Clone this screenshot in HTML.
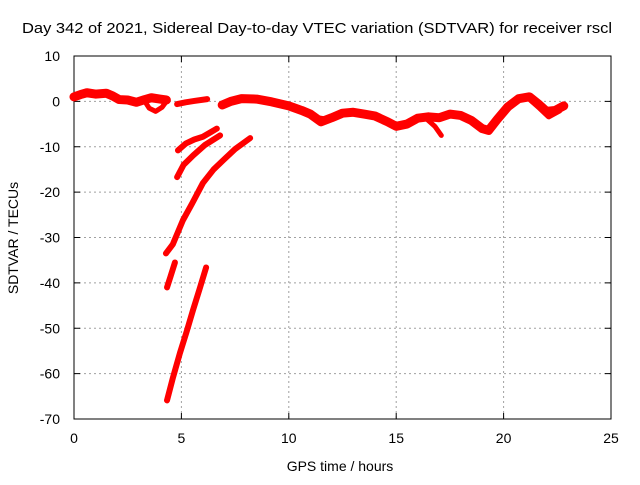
<!DOCTYPE html>
<html><head><meta charset="utf-8"><style>
body{margin:0;background:#fff}
svg text{font-family:"Liberation Sans",sans-serif;font-size:14px;fill:#000}
</style></head><body>
<svg width="640" height="480">
<g id="grid"></g>
<g id="axes"></g>
<g id="series"></g>
<text x="22" y="33" textLength="590" lengthAdjust="spacingAndGlyphs" style="font-size:15px">Day 342 of 2021, Sidereal Day-to-day VTEC variation (SDTVAR) for receiver rscl</text>
<text x="340" y="471" text-anchor="middle">GPS time / hours</text>
<text transform="translate(18,238) rotate(-90)" text-anchor="middle">SDTVAR / TECUs</text>
</svg>
<script>
const xTicks=[0,5,10,15,20,25];
const yTicks=[10,0,-10,-20,-30,-40,-50,-60,-70];
const mainSeg1=[[0,1],[0.3,1.5],[0.6,1.9],[1,1.6],[1.5,1.8],[1.8,1.2],[2.1,0.4],[2.5,0.3],[2.9,-0.2],[3.3,0.4],[3.6,0.8],[4,0.5],[4.3,0.3]];
const mainLoop=[[3.3,0],[3.5,-1.5],[3.8,-2.2],[4.1,-1.3],[4.3,0]];
const mainSeg2=[[4.8,-0.6],[5.2,-0.2],[5.6,0.1],[6.2,0.5]];
const mainSeg3=[[6.9,-0.8],[7.3,0],[7.8,0.6],[8.5,0.5],[9.2,-0.1],[10,-1],[10.6,-2],[11,-2.8],[11.5,-4.5],[12,-3.6],[12.5,-2.6],[13,-2.4],[13.5,-2.8],[14,-3.2],[14.6,-4.5],[15,-5.5],[15.5,-5],[16,-3.7],[16.5,-3.4],[17,-3.6],[17.5,-2.8],[18,-3.1],[18.5,-4.2],[19,-6],[19.3,-6.4],[19.7,-4],[20.2,-1.2],[20.7,0.6],[21.2,1],[21.6,-0.5],[22,-2.2],[22.4,-2],[22.8,-1]];
const branch1=[[16.4,-3.8],[16.8,-5.5],[17.1,-7.5]];
const branch2=[[11.2,-3.5],[11.6,-3.8],[12,-3.8]];
const branch3=[[21.3,0.2],[21.7,-1.5],[22.1,-3.3],[22.6,-2]];
const curve1=[[4.84,-10.8],[5.2,-9.3],[5.6,-8.4],[6.0,-7.8],[6.4,-6.7],[6.65,-6]];
const curve2=[[4.8,-16.7],[5.1,-14],[5.55,-11.9],[6.1,-9.6],[6.8,-7.5]];
const curve3=[[4.28,-33.5],[4.6,-31.5],[5.07,-26.2],[5.5,-22.5],[6.0,-18],[6.5,-15],[6.94,-13],[7.5,-10.5],[8.2,-8.1]];
const curve4=[[4.33,-41],[4.5,-38.5],[4.7,-35.5]];
const curve5=[[4.33,-65.9],[4.6,-61],[4.93,-55.5],[5.24,-50.8],[5.54,-46],[5.85,-41.3],[6.15,-36.6]];
const ns="http://www.w3.org/2000/svg";
const L=74,R=611,T=56,B=419;
const X=h=>L+(h-0)/25*(R-L);
const Y=v=>T+(10-v)/80*(B-T);
function mk(tag,attrs,parent){const e=document.createElementNS(ns,tag);for(const k in attrs)e.setAttribute(k,attrs[k]);parent.appendChild(e);return e;}
const grid=document.getElementById('grid'),axes=document.getElementById('axes'),ser=document.getElementById('series');
xTicks.forEach(t=>{
 if(t>0&&t<25){const g=mk('line',{x1:X(t),x2:X(t),y1:T,y2:B,stroke:'#a0a0a0','stroke-dasharray':'2,3'},grid);
 
 }
 const tk=mk('text',{x:X(t),y:B+24,'text-anchor':'middle'},axes);tk.textContent=t;
 
 
 mk('line',{x1:X(t),x2:X(t),y1:B,y2:B-6,stroke:'#000'},axes);
 mk('line',{x1:X(t),x2:X(t),y1:T,y2:T+6,stroke:'#000'},axes);
});
yTicks.forEach(t=>{
 if(t<10&&t>-70){const g=mk('line',{x1:L,x2:R,y1:Y(t),y2:Y(t),stroke:'#a0a0a0','stroke-dasharray':'2,3'},grid);
 
 }
 const tk=mk('text',{x:L-14,y:Y(t)+5,'text-anchor':'end'},axes);tk.textContent=t;
 
 
 mk('line',{x1:L,x2:L+6,y1:Y(t),y2:Y(t),stroke:'#000'},axes);
 mk('line',{x1:R,x2:R-6,y1:Y(t),y2:Y(t),stroke:'#000'},axes);
});
mk('rect',{x:L,y:T,width:R-L,height:B-T,fill:'none',stroke:'#000'},axes);
function draw(pts,w,name){
 const p=mk('polyline',{points:pts.map(d=>X(d[0])+','+Y(d[1])).join(' '),fill:'none',stroke:'#ff0000','stroke-width':w,'stroke-linejoin':'round','stroke-linecap':'round'},ser);
 
 
}
draw(mainSeg1,9,'series-main-1');
draw(mainLoop,5,'series-main-loop');
draw(mainSeg2,6,'series-main-2');
draw(mainSeg3,9,'series-main-3');
draw(branch1,5,'series-branch-1');
draw(branch2,5,'series-branch-2');
draw(branch3,6,'series-branch-3');
draw(curve1,6,'series-curve-1');
draw(curve2,6,'series-curve-2');
draw(curve3,6,'series-curve-3');
draw(curve4,6,'series-curve-4');
draw(curve5,6,'series-curve-5');
</script>
</body></html>
